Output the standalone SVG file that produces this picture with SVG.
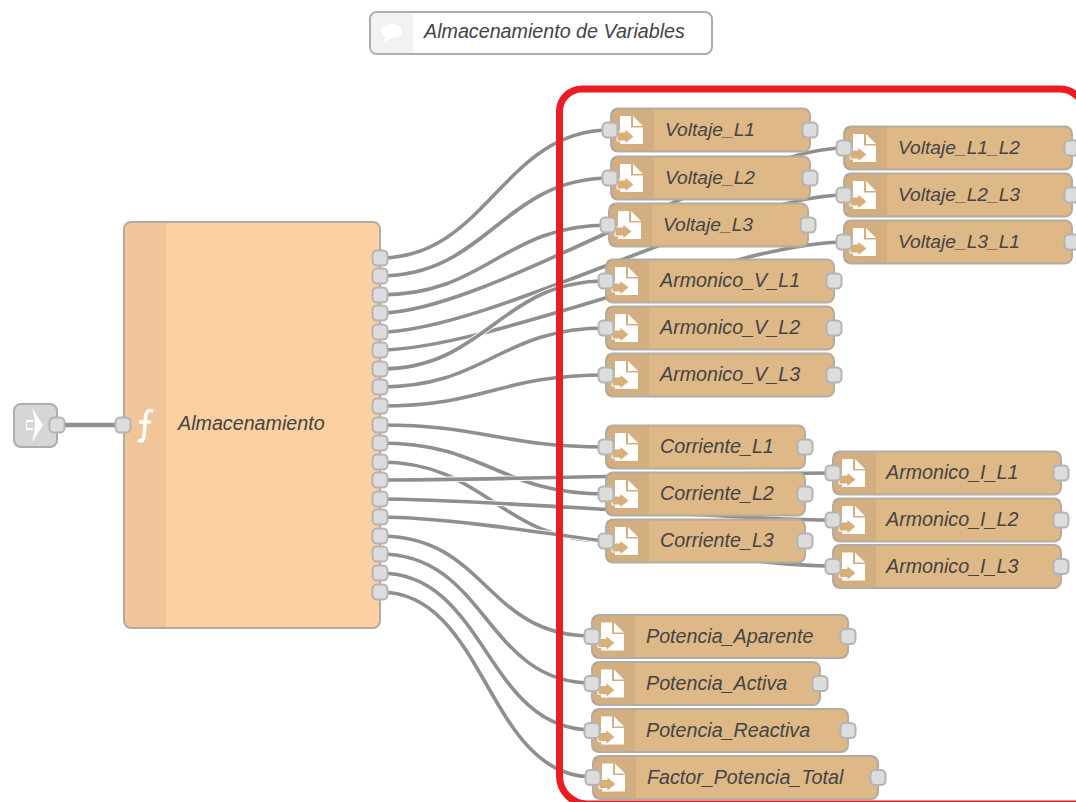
<svg xmlns="http://www.w3.org/2000/svg" width="1076" height="802" viewBox="0 0 1076 802">
<style>
.bg{fill:none;stroke:#fff;stroke-width:5.500}
.ln{fill:none;stroke:#8f8f8f;stroke-width:3.600}
.box{stroke:#b3aca2;stroke-width:2}
.file{fill:#deb887}
.side{fill:#000;fill-opacity:.05}
.port{fill:#dcdcdc;stroke:#b4b4b4;stroke-width:2}
text{font-family:"Liberation Sans",Arial,sans-serif;font-style:italic;font-size:19.700px;fill:#444}
text.v{font-size:19.200px}
</style>
<defs>
<rect id="p" x="-7.500" y="-7.500" width="15" height="15" rx="4.500" class="port"/>
<g id="fi">
<path d="M9-14H20V-2.500H32V14H9Z" fill="#fff"/>
<path d="M22-14L32-4H22Z" fill="#fff"/>
<path d="M6 2H14V-1L23 6.500L14 14V11H6Z" fill="#d8ae7a" stroke="#fff" stroke-width="1"/>
</g>
</defs>
<g id="connectors">
<path class="bg" d="M57 425H123"/><path class="ln" style="stroke-width:4.500" d="M57 425H123"/>
<path class="bg" d="M380 258C487 258 503 130 610 130"/><path class="ln" d="M380 258C487 258 503 130 610 130"/>
<path class="bg" d="M380 276C487 276 503 178 610 178"/><path class="ln" d="M380 276C487 276 503 178 610 178"/>
<path class="bg" d="M380 295C487 295 502 225 609 225"/><path class="ln" d="M380 295C487 295 502 225 609 225"/>
<path class="bg" d="M380 313C487 313 737 148 844 148"/><path class="ln" d="M380 313C487 313 737 148 844 148"/>
<path class="bg" d="M380 332C487 332 737 195 844 195"/><path class="ln" d="M380 332C487 332 737 195 844 195"/>
<path class="bg" d="M380 350C487 350 737 242 844 242"/><path class="ln" d="M380 350C487 350 737 242 844 242"/>
<path class="bg" d="M380 369C487 369 499 281 606 281"/><path class="ln" d="M380 369C487 369 499 281 606 281"/>
<path class="bg" d="M380 387C487 387 499 328 606 328"/><path class="ln" d="M380 387C487 387 499 328 606 328"/>
<path class="bg" d="M380 406C487 406 499 375 606 375"/><path class="ln" d="M380 406C487 406 499 375 606 375"/>
<path class="bg" d="M380 425C487 425 499 447 606 447"/><path class="ln" d="M380 425C487 425 499 447 606 447"/>
<path class="bg" d="M380 443C487 443 499 494 606 494"/><path class="ln" d="M380 443C487 443 499 494 606 494"/>
<path class="bg" d="M380 462C487 462 499 541 606 541"/><path class="ln" d="M380 462C487 462 499 541 606 541"/>
<path class="bg" d="M380 480C487 480 726 473 833 473"/><path class="ln" d="M380 480C487 480 726 473 833 473"/>
<path class="bg" d="M380 499C487 499 726 520 833 520"/><path class="ln" d="M380 499C487 499 726 520 833 520"/>
<path class="bg" d="M380 517C487 517 726 566 833 566"/><path class="ln" d="M380 517C487 517 726 566 833 566"/>
<path class="bg" d="M380 536C487 536 485 636 592 636"/><path class="ln" d="M380 536C487 536 485 636 592 636"/>
<path class="bg" d="M380 554C487 554 485 683 592 683"/><path class="ln" d="M380 554C487 554 485 683 592 683"/>
<path class="bg" d="M380 573C487 573 485 730 592 730"/><path class="ln" d="M380 573C487 573 485 730 592 730"/>
<path class="bg" d="M380 592C487 592 486 777 593 777"/><path class="ln" d="M380 592C487 592 486 777 593 777"/>
</g>
<path id="frame" d="M1084 113A24 24 0 0 0 1060 89H582A22.500 22.500 0 0 0 559.500 111.500V776A28 28 0 0 0 587.500 804H1082" fill="none" stroke="#ed1c24" stroke-width="7"/>
<g id="comment"><rect class="box" x="370" y="12" width="342" height="42" rx="7" fill="#fff"/><path d="M371 19a6 6 0 0 1 6-6h36v40h-36a6 6 0 0 1-6-6z" fill="#f2f2f2"/><path d="M391 24c7 0 11 3 11 7s-4 7-11 7l-7 5 2-6c-3-1-5-3-5-6 0-4 4-7 10-7z" fill="#fff"/><text x="424" y="38">Almacenamiento de Variables</text></g>
<g id="link"><rect class="box" x="14" y="404" width="43" height="43" rx="7" fill="#d6d6d6"/><path d="M32 408L43 425L32 442Q35 433 35 425Q35 417 32 408Z" fill="#fff"/><path d="M26 420h7v2h-6v6h6v2h-7z" fill="#fff"/><use href="#p" x="57" y="425"/></g>
<g id="fn"><rect class="box" x="124" y="222" width="256" height="406" rx="7" fill="#fdd0a2"/><path d="M125 229a6 6 0 0 1 6-6h35v404h-35a6 6 0 0 1-6-6z" class="side"/><path d="M153 411C147 409 146 413 145.500 418L144 436C143.500 441 141 442 138 440M139 422H151" fill="none" stroke="#fff" stroke-width="3.500"/><text x="178" y="430">Almacenamiento</text>
<use href="#p" x="123" y="425"/>
<use href="#p" x="380" y="258"/><use href="#p" x="380" y="276"/><use href="#p" x="380" y="295"/><use href="#p" x="380" y="313"/><use href="#p" x="380" y="332"/><use href="#p" x="380" y="350"/><use href="#p" x="380" y="369"/><use href="#p" x="380" y="387"/><use href="#p" x="380" y="406"/><use href="#p" x="380" y="425"/><use href="#p" x="380" y="443"/><use href="#p" x="380" y="462"/><use href="#p" x="380" y="480"/><use href="#p" x="380" y="499"/><use href="#p" x="380" y="517"/><use href="#p" x="380" y="536"/><use href="#p" x="380" y="554"/><use href="#p" x="380" y="573"/><use href="#p" x="380" y="592"/></g>
<g id="v1" transform="translate(611 130)"><rect class="box file" y="-21.500" width="199" height="43" rx="7"/><rect class="side" x="1" y="-20.500" width="42" height="41"/><use href="#fi"/><text class="v" x="54" y="6">Voltaje_L1</text><use href="#p" x="-1"/><use href="#p" x="199"/></g>
<g id="v2" transform="translate(611 178)"><rect class="box file" y="-21.500" width="199" height="43" rx="7"/><rect class="side" x="1" y="-20.500" width="42" height="41"/><use href="#fi"/><text class="v" x="54" y="6">Voltaje_L2</text><use href="#p" x="-1"/><use href="#p" x="199"/></g>
<g id="v3" transform="translate(609 225)"><rect class="box file" y="-21.500" width="199" height="43" rx="7"/><rect class="side" x="1" y="-20.500" width="42" height="41"/><use href="#fi"/><text class="v" x="54" y="6">Voltaje_L3</text><use href="#p" x="-1"/><use href="#p" x="199"/></g>
<g id="a1" transform="translate(606 281)"><rect class="box file" y="-21.500" width="228" height="43" rx="7"/><rect class="side" x="1" y="-20.500" width="42" height="41"/><use href="#fi"/><text x="54" y="6">Armonico_V_L1</text><use href="#p"/><use href="#p" x="228"/></g>
<g id="a2" transform="translate(606 328)"><rect class="box file" y="-21.500" width="228" height="43" rx="7"/><rect class="side" x="1" y="-20.500" width="42" height="41"/><use href="#fi"/><text x="54" y="6">Armonico_V_L2</text><use href="#p"/><use href="#p" x="228"/></g>
<g id="a3" transform="translate(606 375)"><rect class="box file" y="-21.500" width="228" height="43" rx="7"/><rect class="side" x="1" y="-20.500" width="42" height="41"/><use href="#fi"/><text x="54" y="6">Armonico_V_L3</text><use href="#p"/><use href="#p" x="228"/></g>
<g id="v12" transform="translate(844 148)"><rect class="box file" y="-21.500" width="228" height="43" rx="7"/><rect class="side" x="1" y="-20.500" width="42" height="41"/><use href="#fi"/><text class="v" x="54" y="6">Voltaje_L1_L2</text><use href="#p"/><use href="#p" x="228"/></g>
<g id="v23" transform="translate(844 195)"><rect class="box file" y="-21.500" width="228" height="43" rx="7"/><rect class="side" x="1" y="-20.500" width="42" height="41"/><use href="#fi"/><text class="v" x="54" y="6">Voltaje_L2_L3</text><use href="#p"/><use href="#p" x="228"/></g>
<g id="v31" transform="translate(844 242)"><rect class="box file" y="-21.500" width="228" height="43" rx="7"/><rect class="side" x="1" y="-20.500" width="42" height="41"/><use href="#fi"/><text class="v" x="54" y="6">Voltaje_L3_L1</text><use href="#p"/><use href="#p" x="228"/></g>
<g id="c1" transform="translate(606 447)"><rect class="box file" y="-21.500" width="199" height="43" rx="7"/><rect class="side" x="1" y="-20.500" width="42" height="41"/><use href="#fi"/><text x="54" y="6">Corriente_L1</text><use href="#p"/><use href="#p" x="199"/></g>
<g id="c2" transform="translate(606 494)"><rect class="box file" y="-21.500" width="199" height="43" rx="7"/><rect class="side" x="1" y="-20.500" width="42" height="41"/><use href="#fi"/><text x="54" y="6">Corriente_L2</text><use href="#p"/><use href="#p" x="199"/></g>
<g id="c3" transform="translate(606 541)"><rect class="box file" y="-21.500" width="199" height="43" rx="7"/><rect class="side" x="1" y="-20.500" width="42" height="41"/><use href="#fi"/><text x="54" y="6">Corriente_L3</text><use href="#p"/><use href="#p" x="199"/></g>
<g id="i1" transform="translate(833 473)"><rect class="box file" y="-21.500" width="228" height="43" rx="7"/><rect class="side" x="1" y="-20.500" width="42" height="41"/><use href="#fi"/><text x="53" y="6">Armonico_I_L1</text><use href="#p"/><use href="#p" x="228"/></g>
<g id="i2" transform="translate(833 520)"><rect class="box file" y="-21.500" width="228" height="43" rx="7"/><rect class="side" x="1" y="-20.500" width="42" height="41"/><use href="#fi"/><text x="53" y="6">Armonico_I_L2</text><use href="#p"/><use href="#p" x="228"/></g>
<g id="i3" transform="translate(833 566.500)"><rect class="box file" y="-21.500" width="228" height="43" rx="7"/><rect class="side" x="1" y="-20.500" width="42" height="41"/><use href="#fi"/><text x="53" y="6">Armonico_I_L3</text><use href="#p"/><use href="#p" x="228"/></g>
<g id="pa" transform="translate(592 636.500)"><rect class="box file" y="-21.500" width="256" height="43" rx="7"/><rect class="side" x="1" y="-20.500" width="42" height="41"/><use href="#fi"/><text x="54" y="6">Potencia_Aparente</text><use href="#p"/><use href="#p" x="256"/></g>
<g id="pb" transform="translate(592 683.500)"><rect class="box file" y="-21.500" width="228" height="43" rx="7"/><rect class="side" x="1" y="-20.500" width="42" height="41"/><use href="#fi"/><text x="54" y="6">Potencia_Activa</text><use href="#p"/><use href="#p" x="228"/></g>
<g id="pr" transform="translate(592 730.500)"><rect class="box file" y="-21.500" width="256" height="43" rx="7"/><rect class="side" x="1" y="-20.500" width="42" height="41"/><use href="#fi"/><text x="54" y="6">Potencia_Reactiva</text><use href="#p"/><use href="#p" x="256"/></g>
<g id="ft" transform="translate(593 777.500)"><rect class="box file" y="-21.500" width="285" height="43" rx="7"/><rect class="side" x="1" y="-20.500" width="42" height="41"/><use href="#fi"/><text x="54" y="6">Factor_Potencia_Total</text><use href="#p"/><use href="#p" x="285"/></g>
</svg>
